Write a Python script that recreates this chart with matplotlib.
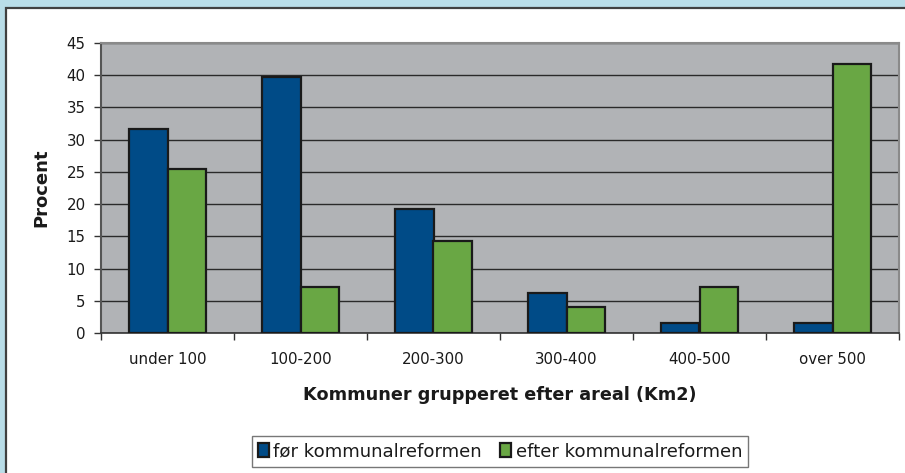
import matplotlib
matplotlib.use("Agg")
import matplotlib.pyplot as plt
from matplotlib.patches import Rectangle
import numpy as np

categories = ["under 100", "100-200", "200-300", "300-400", "400-500", "over 500"]
foer = [31.7, 39.7, 19.2, 6.2, 1.5, 1.5]
efter = [25.5, 7.1, 14.2, 4.1, 7.1, 41.8]
series_names = ["før kommunalreformen", "efter kommunalreformen"]
yticks = [0, 5, 10, 15, 20, 25, 30, 35, 40, 45]

plt.rcParams['font.family'] = ['DejaVu Sans']

W, H = 905, 473
fig = plt.figure(figsize=(W / 100, H / 100), dpi=100)
fig.patch.set_facecolor('#b9dde8')

# white panel with dark border (extends beyond right/bottom edges)
bg = fig.add_axes([0, 0, 1, 1], zorder=-10)
bg.set_axis_off()
bg.set_xlim(0, 1)
bg.set_ylim(0, 1)
bg.add_patch(Rectangle((6 / W, -0.05), 1.2, 1 - 8 / H + 0.05,
                       facecolor='white', edgecolor='#404040', linewidth=1.6))

left, right, top, bottom = 101, 899, 43, 333
ax = fig.add_axes([left / W, 1 - bottom / H, (right - left) / W, (bottom - top) / H])
ax.set_facecolor('#b1b3b6')

x = np.arange(len(categories))
w = 0.286
ax.bar(x - w / 2, foer, width=w, color='#004b87', edgecolor='#1a1a1a', linewidth=1.6,
       label=series_names[0], zorder=3)
ax.bar(x + w / 2, efter, width=w, color='#69a744', edgecolor='#1a1a1a', linewidth=1.6,
       label=series_names[1], zorder=3)

ax.set_xlim(-0.5, len(categories) - 0.5)
ax.set_ylim(0, 45)
ax.set_yticks(yticks)
ax.yaxis.grid(True, color='#2a2a2a', linewidth=1.0, zorder=1)
ax.set_axisbelow(True)

ax.set_xticks(x)
ax.set_xticklabels(categories)
ax.set_xticks(np.arange(-0.5, len(categories), 1.0), minor=True)
ax.tick_params(axis='x', which='major', length=0, pad=14, labelsize=10.8, labelcolor='#1a1a1a')
ax.tick_params(axis='x', which='minor', length=5, width=1, color='#333333', direction='out')
ax.tick_params(axis='y', length=5, width=1, color='#333333', pad=6, labelsize=10.8,
               labelcolor='#1a1a1a', direction='out')

for s in ['top', 'right']:
    ax.spines[s].set_color('#8a8a8a')
    ax.spines[s].set_linewidth(1.5)
ax.spines['left'].set_color('#555555')
ax.spines['left'].set_linewidth(1.5)
ax.spines['bottom'].set_color('#333333')
ax.spines['bottom'].set_linewidth(1.2)

ax.set_xlabel("Kommuner grupperet efter areal (Km2)", fontsize=12.7, fontweight='bold',
              color='#1a1a1a', labelpad=13)
ax.set_ylabel("Procent", fontsize=13, fontweight='bold', color='#1a1a1a', labelpad=12)

leg = fig.legend(loc='center', bbox_to_anchor=(500 / W, 1 - 451.5 / H), ncol=2,
                 fontsize=13.1, frameon=True, fancybox=False, handlelength=0.6,
                 handleheight=0.75, handletextpad=0.25, columnspacing=1.0,
                 borderpad=0.35, borderaxespad=0)
leg.get_frame().set_edgecolor('#555555')
leg.get_frame().set_linewidth(1.0)
for t in leg.get_texts():
    t.set_color('#1a1a1a')

fig.savefig("out.png", dpi=100, facecolor=fig.get_facecolor())
